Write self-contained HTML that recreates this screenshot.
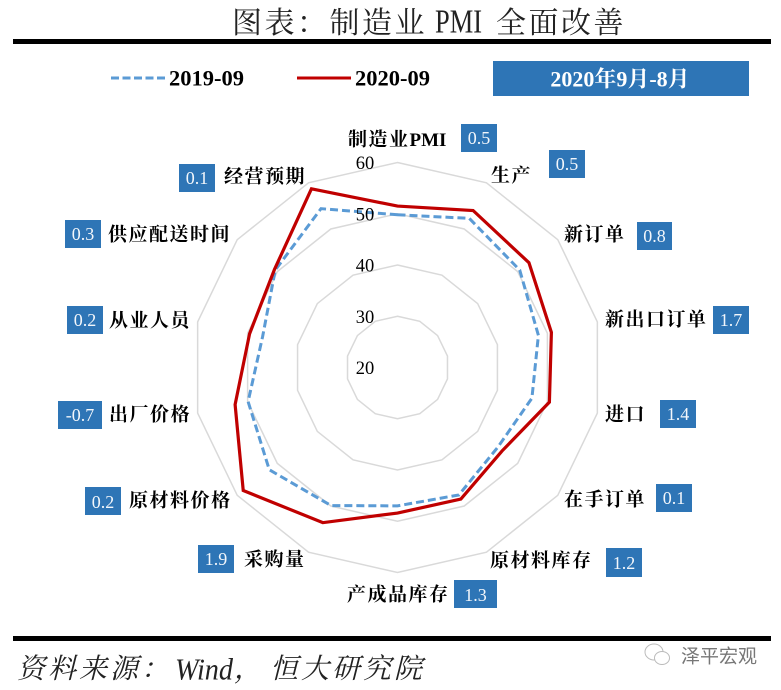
<!DOCTYPE html>
<html>
<head>
<meta charset="utf-8">
<style>
html,body{margin:0;padding:0;background:#fff;}
svg{display:block;}
.cat{font-family:"Liberation Serif","Noto Serif CJK SC",serif;font-weight:700;font-size:19px;letter-spacing:1.5px;fill:#000;dominant-baseline:central;}
.val{font-family:"Liberation Serif",serif;font-size:18px;fill:#f2f6fb;text-anchor:middle;dominant-baseline:central;}
.box{fill:#2E75B6;}
.tick{font-family:"Liberation Serif",serif;font-size:18.5px;fill:#000;text-anchor:middle;dominant-baseline:central;}
.leg{font-family:"Liberation Serif",serif;font-weight:700;font-size:22.5px;fill:#000;dominant-baseline:central;}
.ttl{font-family:"Noto Serif CJK SC",serif;font-size:30px;letter-spacing:2.5px;dominant-baseline:central;fill:#222;}
.src{font-family:"Noto Serif CJK SC",serif;font-size:28px;font-style:italic;letter-spacing:3px;dominant-baseline:central;fill:#222;}
</style>
</head>
<body>
<svg id="chart" xmlns="http://www.w3.org/2000/svg" width="781" height="690" viewBox="0 0 781 690">
  <g>
    <text class="ttl" x="232" y="20">图表：制造业</text>
    <text class="ttl" x="435" y="22" textLength="47" lengthAdjust="spacingAndGlyphs" style="font-family:'Liberation Serif',serif;font-size:34px;letter-spacing:0">PMI</text>
    <text class="ttl" x="496" y="20">全面改善</text>
  </g>
  <rect x="13" y="39" width="758" height="5" fill="#000"/>

  <line x1="111" y1="78" x2="165" y2="78" stroke="#5B9BD5" stroke-width="3" stroke-dasharray="8 3.5"/>
  <text class="leg" x="169" y="78">2019-09</text>
  <line x1="297" y1="78" x2="351" y2="78" stroke="#C00000" stroke-width="3"/>
  <text class="leg" x="355" y="78">2020-09</text>

  <rect class="box" x="493" y="61" width="256" height="35"/>
  <text x="620" y="79" text-anchor="middle" style="font-family:'Liberation Serif','Noto Serif CJK SC',serif;font-weight:700;font-size:22px;dominant-baseline:central;" fill="#fff">2020年9月-8月</text>

  <g id="grid"></g>
  <g id="series"></g>
  <g id="ticks"></g>

  <g transform="translate(0,1)">
    <text class="cat" x="348" y="139">制造业<tspan letter-spacing="0">PMI</tspan></text>
    <text class="cat" x="491" y="175">生产</text>
    <text class="cat" x="564" y="234">新订单</text>
    <text class="cat" x="605" y="319">新出口订单</text>
    <text class="cat" x="605" y="414">进口</text>
    <text class="cat" x="564" y="499">在手订单</text>
    <text class="cat" x="490" y="560">原材料库存</text>
    <text class="cat" x="347" y="594">产成品库存</text>
    <text class="cat" x="244" y="559">采购量</text>
    <text class="cat" x="129" y="500">原材料价格</text>
    <text class="cat" x="109" y="414">出厂价格</text>
    <text class="cat" x="109" y="320">从业人员</text>
    <text class="cat" x="108" y="234">供应配送时间</text>
    <text class="cat" x="224" y="176">经营预期</text>
  </g>

  <g>
    <g><rect class="box" x="461" y="124" width="36" height="28"/><text class="val" x="479" y="138">0.5</text></g>
    <g><rect class="box" x="549" y="150" width="36" height="28"/><text class="val" x="567" y="164">0.5</text></g>
    <g><rect class="box" x="637" y="222" width="35" height="28"/><text class="val" x="654.5" y="236">0.8</text></g>
    <g><rect class="box" x="713" y="306" width="36" height="28"/><text class="val" x="731" y="320">1.7</text></g>
    <g><rect class="box" x="660" y="400" width="36" height="28"/><text class="val" x="678" y="414">1.4</text></g>
    <g><rect class="box" x="656" y="484" width="36" height="28"/><text class="val" x="674" y="498">0.1</text></g>
    <g><rect class="box" x="606" y="548" width="36" height="29"/><text class="val" x="624" y="563">1.2</text></g>
    <g><rect class="box" x="454" y="580" width="43" height="28"/><text class="val" x="475.5" y="595">1.3</text></g>
    <g><rect class="box" x="198" y="545" width="36" height="28"/><text class="val" x="216" y="559">1.9</text></g>
    <g><rect class="box" x="85" y="487" width="36" height="28"/><text class="val" x="103" y="502">0.2</text></g>
    <g><rect class="box" x="58" y="401" width="44" height="28"/><text class="val" x="80" y="415">-0.7</text></g>
    <g><rect class="box" x="67" y="306" width="36" height="28"/><text class="val" x="85" y="320">0.2</text></g>
    <g><rect class="box" x="65" y="220" width="36" height="28"/><text class="val" x="83" y="234">0.3</text></g>
    <g><rect class="box" x="179" y="164" width="36" height="28"/><text class="val" x="197" y="178">0.1</text></g>
  </g>

  <rect x="13" y="636" width="758" height="5" fill="#000"/>
  <g>
    <text class="src" x="17" y="667">资料来源：</text>
    <text class="src" x="175" y="669" style="font-family:'Liberation Serif',serif;font-size:31px;letter-spacing:0" textLength="58" lengthAdjust="spacingAndGlyphs">Wind</text>
    <text class="src" x="234" y="667">，</text>
    <text class="src" x="270" y="667">恒大研究院</text>
  </g>

  <g fill="#fff" stroke="#bbb" stroke-width="1">
    <ellipse cx="654" cy="652" rx="9" ry="8"/>
    <ellipse cx="662" cy="658" rx="7.5" ry="6.5"/>
  </g>
  <text x="681" y="655" style="font-family:'Noto Sans CJK SC',sans-serif;font-size:19px;dominant-baseline:central;" fill="#777">泽平宏观</text>
</svg>

<script>
const categories = ["制造业PMI","生产","新订单","新出口订单","进口","在手订单","原材料库存","产成品库存","采购量","原材料价格","出厂价格","从业人员","供应配送时间","经营预期"];
const values2019 = [49.8,52.3,50.5,48.2,46.9,45.0,47.6,47.0,49.9,52.0,49.9,47.0,50.5,54.4];
const values2020 = [51.5,54.0,52.8,50.8,50.4,46.1,48.5,48.4,53.6,58.5,52.5,49.6,50.7,58.7];
const tickValues = [20,30,40,50,60];

const SVG_NS = "http://www.w3.org/2000/svg";
const cx = 397.5, cy = 367.5;
const axisMin = 20, axisMax = 60, outerRadius = 205;

function radius(v) {
  return (v - axisMin) / (axisMax - axisMin) * outerRadius;
}
function point(i, v) {
  const a = 2 * Math.PI * i / categories.length;
  const r = radius(v);
  return [cx + r * Math.sin(a), cy - r * Math.cos(a)];
}
function polygonPoints(vals) {
  return vals.map(function (v, i) {
    const p = point(i, v);
    return p[0].toFixed(2) + "," + p[1].toFixed(2);
  }).join(" ");
}

const grid = document.getElementById("grid");
tickValues.forEach(function (t) {
  if (t === axisMin) return;
  const ring = document.createElementNS(SVG_NS, "polygon");
  
  
  ring.setAttribute("points", polygonPoints(categories.map(function () { return t; })));
  ring.setAttribute("fill", "none");
  ring.setAttribute("stroke", "#D9D9D9");
  ring.setAttribute("stroke-width", "1.5");
  grid.appendChild(ring);
});

const seriesGroup = document.getElementById("series");
const line2019 = document.createElementNS(SVG_NS, "polygon");


line2019.setAttribute("points", polygonPoints(values2019));
line2019.setAttribute("fill", "none");
line2019.setAttribute("stroke", "#5B9BD5");
line2019.setAttribute("stroke-width", "3");
line2019.setAttribute("stroke-dasharray", "8 4");
seriesGroup.appendChild(line2019);

const line2020 = document.createElementNS(SVG_NS, "polygon");


line2020.setAttribute("points", polygonPoints(values2020));
line2020.setAttribute("fill", "none");
line2020.setAttribute("stroke", "#C00000");
line2020.setAttribute("stroke-width", "3.2");
seriesGroup.appendChild(line2020);

const ticksGroup = document.getElementById("ticks");
tickValues.forEach(function (t) {
  const label = document.createElementNS(SVG_NS, "text");
  
  
  label.setAttribute("class", "tick");
  label.setAttribute("x", cx - 32.5);
  label.setAttribute("y", cy - radius(t) + 1.5);
  label.textContent = t;
  ticksGroup.appendChild(label);
});
</script>
</body>
</html>
